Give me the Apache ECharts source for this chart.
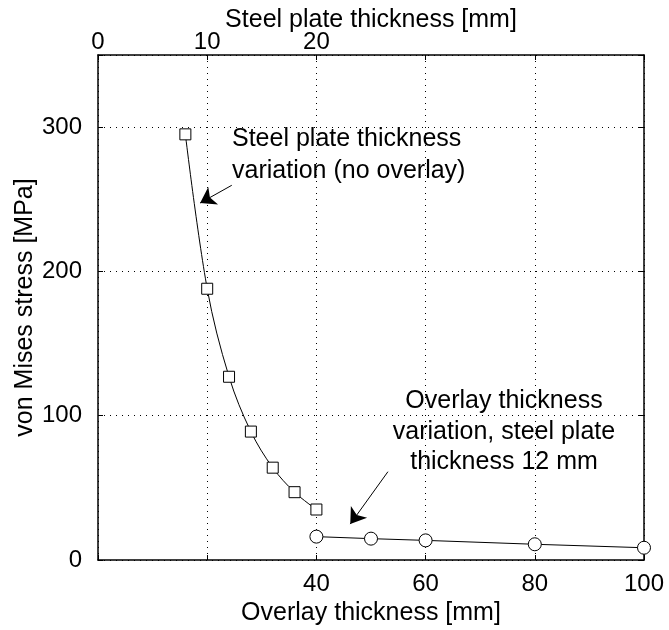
<!DOCTYPE html>
<html>
<head>
<meta charset="utf-8">
<script src="https://cdn.jsdelivr.net/npm/echarts@6/dist/echarts.min.js"></script>
<style>html,body{margin:0;padding:0;background:#fff}#c{width:669px;height:630px}</style>
</head>
<body>
<div id="c"></div>
<script>
// Data
var steelThickness = [8, 10, 12, 14, 16, 18, 20];            // mm (top axis)
var steelStress    = [295, 188, 127, 89, 64, 47, 35];        // MPa
var overlayThickness = [40, 50, 60, 80, 100];                 // mm (bottom axis)
var overlayStress    = [16.2, 14.8, 13.6, 10.9, 8.5];         // MPa
var bottomTickLabels = [40, 60, 80, 100];
var topTickLabels = [0, 10, 20];
var yTickLabels = [0, 100, 200, 300];
// annotation arrows in bottom-axis data coordinates [tail, head]
var arrow1 = [[24.5, 259.7], [18.7, 247.4]];
var arrow2 = [[53.1, 61.2], [46.2, 24.9]];
var note1 = 'Steel plate thickness\nvariation (no overlay)';
var note2 = 'Overlay thickness\nvariation, steel plate\nthickness 12 mm';

var FONT = '"Liberation Sans", Arial, Helvetica, sans-serif';
var chart = echarts.init(document.getElementById('c'));
function pairs(xs, ys){ return xs.map(function(x,i){return [x, ys[i]];}); }
var dotted = {color:'#000', width:1, type:[1,5]};
var axLine = {show:true, onZero:false, lineStyle:{color:'#000', width:1.5}};
var tick = {inside:true, length:5, lineStyle:{color:'#000', width:1}};
var option = {
  animation:false,
  backgroundColor:'#fff',
  textStyle:{fontFamily:FONT, color:'#000'},
  grid:{left:98, right:25, top:55, bottom:70, show:false, containLabel:false, outerBoundsMode:'none'},
  xAxis:[{
    type:'value', position:'bottom', min:0, max:100, interval:20,
    axisLine:axLine, axisTick:tick,
    axisLabel:{fontSize:24, color:'#000', fontFamily:FONT, margin:12,
      formatter:function(v){return bottomTickLabels.indexOf(v)>=0 ? String(v) : '';}},
    splitLine:{show:true, lineStyle:dotted},
    name:'Overlay thickness [mm]', nameLocation:'middle', nameGap:41, nameMoveOverlap:false,
    nameTextStyle:{fontSize:25, color:'#000', fontFamily:FONT}
  },{
    type:'value', position:'top', min:0, max:50, interval:10,
    axisLine:axLine, axisTick:tick,
    axisLabel:{fontSize:24, color:'#000', fontFamily:FONT, margin:1,
      formatter:function(v){return topTickLabels.indexOf(v)>=0 ? String(v) : '';}},
    splitLine:{show:false},
    name:'Steel plate thickness [mm]', nameLocation:'middle', nameGap:22, nameMoveOverlap:false,
    nameTextStyle:{fontSize:25, color:'#000', fontFamily:FONT}
  }],
  yAxis:[{
    type:'value', position:'left', min:0, max:350, interval:100,
    axisLine:axLine, axisTick:tick,
    axisLabel:{fontSize:24, color:'#000', fontFamily:FONT, margin:16,
      formatter:function(v){return yTickLabels.indexOf(v)>=0 ? String(v) : '';}},
    splitLine:{show:true, lineStyle:dotted},
    name:'von Mises stress [MPa]', nameLocation:'middle', nameGap:60, nameRotate:90, nameMoveOverlap:false,
    nameTextStyle:{fontSize:25, color:'#000', fontFamily:FONT}
  },{
    type:'value', position:'right', min:0, max:350, interval:100,
    axisLine:axLine, axisTick:tick,
    axisLabel:{show:false}, splitLine:{show:false}
  }],
  series:[{
    type:'line', xAxisIndex:1, yAxisIndex:0, data:pairs(steelThickness, steelStress),
    smooth:0.35, symbol:'rect', symbolSize:11,
    lineStyle:{color:'#000', width:1}, itemStyle:{color:'#fff', borderColor:'#000', borderWidth:1},
    silent:true, z:3
  },{
    type:'line', xAxisIndex:0, yAxisIndex:0, data:pairs(overlayThickness, overlayStress),
    symbol:'circle', symbolSize:13,
    lineStyle:{color:'#000', width:1}, itemStyle:{color:'#fff', borderColor:'#000', borderWidth:1},
    silent:true, z:3,
    markLine:{
      silent:true, symbol:['none','arrow'], symbolSize:15,
      label:{show:false}, lineStyle:{color:'#000', width:1, type:'solid'},
      itemStyle:{color:'#000'},
      emphasis:{disabled:true},
      data:[
        [{coord:arrow1[0]},{coord:arrow1[1]}],
        [{coord:arrow2[0]},{coord:arrow2[1]}]
      ]
    }
  }],
  graphic:[
    {type:'text', x:232, y:155, style:{text:note1, font:'25px '+FONT, fill:'#000', textAlign:'left', textVerticalAlign:'middle', lineHeight:32}},
    {type:'text', x:504, y:432, style:{text:note2, font:'25px '+FONT, fill:'#000', textAlign:'center', textVerticalAlign:'middle', lineHeight:30.5}}
  ]
};
chart.setOption(option);
</script>
</body>
</html>
